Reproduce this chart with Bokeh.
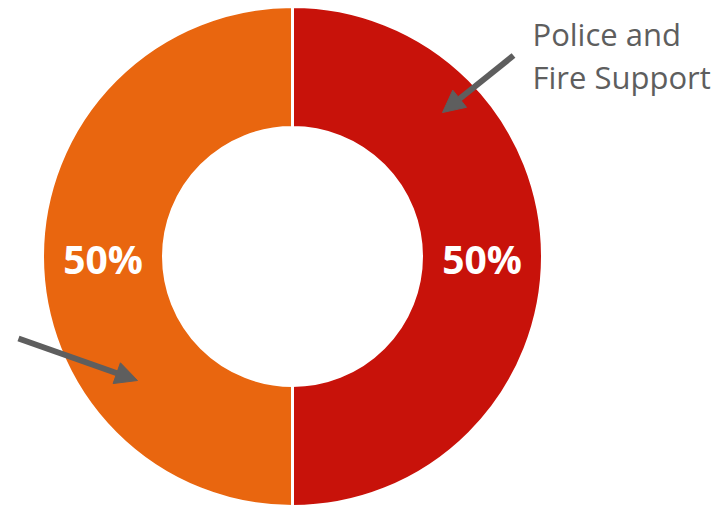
import math
from bokeh.plotting import figure
from bokeh.models import ColumnDataSource, Arrow, NormalHead, Label
from bokeh.core.properties import value
from bokeh.embed import file_html
from bokeh.resources import INLINE

# Data
categories = ["Police and Fire Support", "Other"]
shares = [50, 50]
colors = ["#C8120A", "#E9660F"]
pct_labels = ["50%", "50%"]

W, H = 726, 512
p = figure(width=W, height=H, x_range=(0, W), y_range=(0, H),
           output_backend="svg", toolbar_location=None, min_border=0)
p.axis.visible = False
p.grid.visible = False
p.outline_line_color = None
p.background_fill_color = "white"

def px(x):
    return x

def py(y):
    return H - y

cx, cy = px(292), py(256)
r_out, r_in = 250, 129

total = sum(shares)
starts, ends = [], []
a = math.pi / 2
# clockwise from top
for s in shares:
    ang = s / total * 2 * math.pi
    starts.append(a - ang)
    ends.append(a)
    a -= ang

src = ColumnDataSource(dict(start=starts, end=ends, color=colors, cat=categories))
p.annular_wedge(x=cx, y=cy, inner_radius=r_in, outer_radius=r_out,
                start_angle="start", end_angle="end", fill_color="color",
                line_color="white", line_width=3, source=src)

r_mid = (r_in + r_out) / 2
lx, ly = [], []
for s0, e0 in zip(starts, ends):
    m = (s0 + e0) / 2
    lx.append(cx + r_mid * math.cos(m))
    ly.append(cy + r_mid * math.sin(m) - 2)
p.text(x=lx, y=ly, text=pct_labels, text_color="white", text_font=value("Open Sans"),
       text_font_size="39px", text_font_style="bold",
       text_align="center", text_baseline="middle")

grey = "#5E5E5E"
p.add_layout(Label(x=px(532), y=py(33), text="Police and", text_color=grey,
                   text_font="Open Sans", text_font_size="31px", text_baseline="alphabetic"))
p.add_layout(Label(x=px(532), y=py(76), text="Fire Support", text_color=grey,
                   text_font="Open Sans", text_font_size="31px", text_baseline="alphabetic"))

for (x0, y0, x1, y1) in [(513, 55, 442, 112), (18, 338, 137, 380)]:
    p.add_layout(Arrow(x_start=px(x0), y_start=py(y0), x_end=px(x1), y_end=py(y1),
                       line_color=grey, line_width=6,
                       end=NormalHead(size=22, fill_color=grey, line_color=grey)))

open("out.html", "w").write(file_html(p, INLINE))
